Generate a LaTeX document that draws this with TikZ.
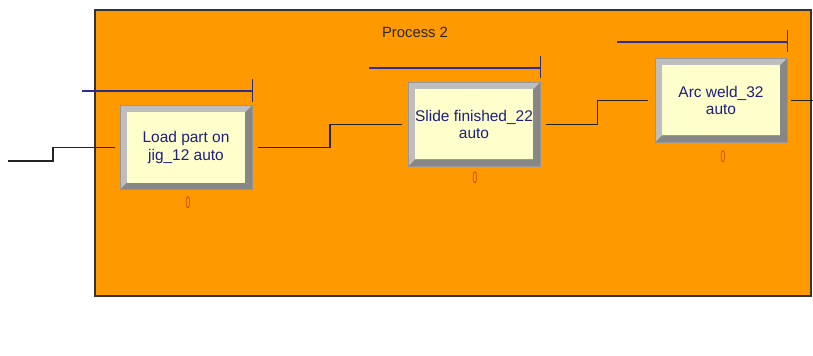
\documentclass[tikz,border=0pt]{standalone}
\usepackage{fontspec}
\setmainfont{Liberation Sans}
\usetikzlibrary{calc}
\definecolor{procorange}{RGB}{255,153,0}
\definecolor{boxyellow}{RGB}{255,255,204}
\definecolor{bevlight}{RGB}{190,190,190}
\definecolor{bevdark}{RGB}{135,135,135}
\definecolor{bevedge}{RGB}{150,150,150}
\definecolor{textnavy}{RGB}{30,30,128}
\definecolor{queueblue}{RGB}{45,45,140}
\definecolor{conngray}{RGB}{35,35,35}
\definecolor{zerocol}{RGB}{200,70,0}
\tikzset{
  procbox/.style={draw=bevedge, line width=0.6pt, fill=bevlight,
    minimum width=99pt, minimum height=63pt, inner sep=0pt,
    align=center, text=textnavy, font=\fontsize{11.6pt}{12.8pt}\selectfont,
    path picture={
      \fill[bevdark] (path picture bounding box.south west) -- ++(5.25pt,5.25pt)
        -- ($(path picture bounding box.south east)+(-5.25pt,5.25pt)$)
        -- ($(path picture bounding box.north east)+(-5.25pt,-5.25pt)$)
        -- (path picture bounding box.north east)
        -- (path picture bounding box.south east) -- cycle;
      \fill[boxyellow] ($(path picture bounding box.south west)+(5.25pt,5.25pt)$)
        rectangle ($(path picture bounding box.north east)+(-5.25pt,-5.25pt)$);
    }},
  conn/.style={draw=conngray, line width=1pt},
  qline/.style={draw=queueblue, line width=0.9pt},
  counter/.style={text=zerocol, font=\fontsize{12.5pt}{12.5pt}\selectfont, xscale=0.5, inner sep=0pt},
  titletext/.style={text=black!85, font=\fontsize{11.1pt}{12pt}\selectfont, inner sep=0pt}
}
\begin{document}
\begin{tikzpicture}[x=0.75pt, y=-0.75pt]
\useasboundingbox (0,0) rectangle (813,356);
% process frame
\filldraw[fill=procorange, draw=black!80, line width=0.8pt] (95,10) rectangle (811,296);
\node[titletext] (title) at (415,32) {Process 2};
% process boxes
\node[procbox] (b1) at (186,147.5) {Load part on\\jig\_12 auto};
\node[procbox] (b2) at (474,124.5) {Slide finished\_22\\auto};
\node[procbox] (b3) at (721,100.5) {Arc weld\_32\\auto};
% counters
\node[counter] (c1) at ($(b1.south)+(2,13)$) {0};
\node[counter] (c2) at ($(b2.south)+(1,11)$) {0};
\node[counter] (c3) at ($(b3.south)+(2,14)$) {0};
% queues
\draw[qline] ($(b1.north east)+(-170,-14)$) coordinate (q1s) -- ++(170,0) coordinate (q1e);
\draw[qline] ($(q1e)+(0,-12)$) -- ($(q1e)+(0,11)$);
\draw[qline] ($(b2.north east)+(-171,-14)$) coordinate (q2s) -- ++(171,0) coordinate (q2e);
\draw[qline] ($(q2e)+(0,-12)$) -- ($(q2e)+(0,10)$);
\draw[qline] ($(b3.north east)+(-170,-16)$) coordinate (q3s) -- ++(170,0) coordinate (q3e);
\draw[qline] ($(q3e)+(0,-12)$) -- ($(q3e)+(0,10)$);
% connectors
\coordinate (in0) at (8,161);
\coordinate (s0) at (53,154);
\coordinate (out3) at (813,101);
\coordinate (m12) at ($(b1.east)!0.5!(b2.west)$);
\coordinate (m23) at ($(b2.east)!0.5!(b3.west)$);
\draw[conn] (in0) -| (s0) |- ([xshift=-3.75pt]b1.west);
\draw[conn] ([xshift=4.5pt]b1.east) -| (m12) |- ([xshift=-4.5pt]b2.west);
\draw[conn] ([xshift=4.5pt]b2.east) -| (m23) |- ([xshift=-5.25pt]b3.west);
\draw[conn] ([xshift=3pt]b3.east) -- (b3.east -| out3);
\end{tikzpicture}
\end{document}
